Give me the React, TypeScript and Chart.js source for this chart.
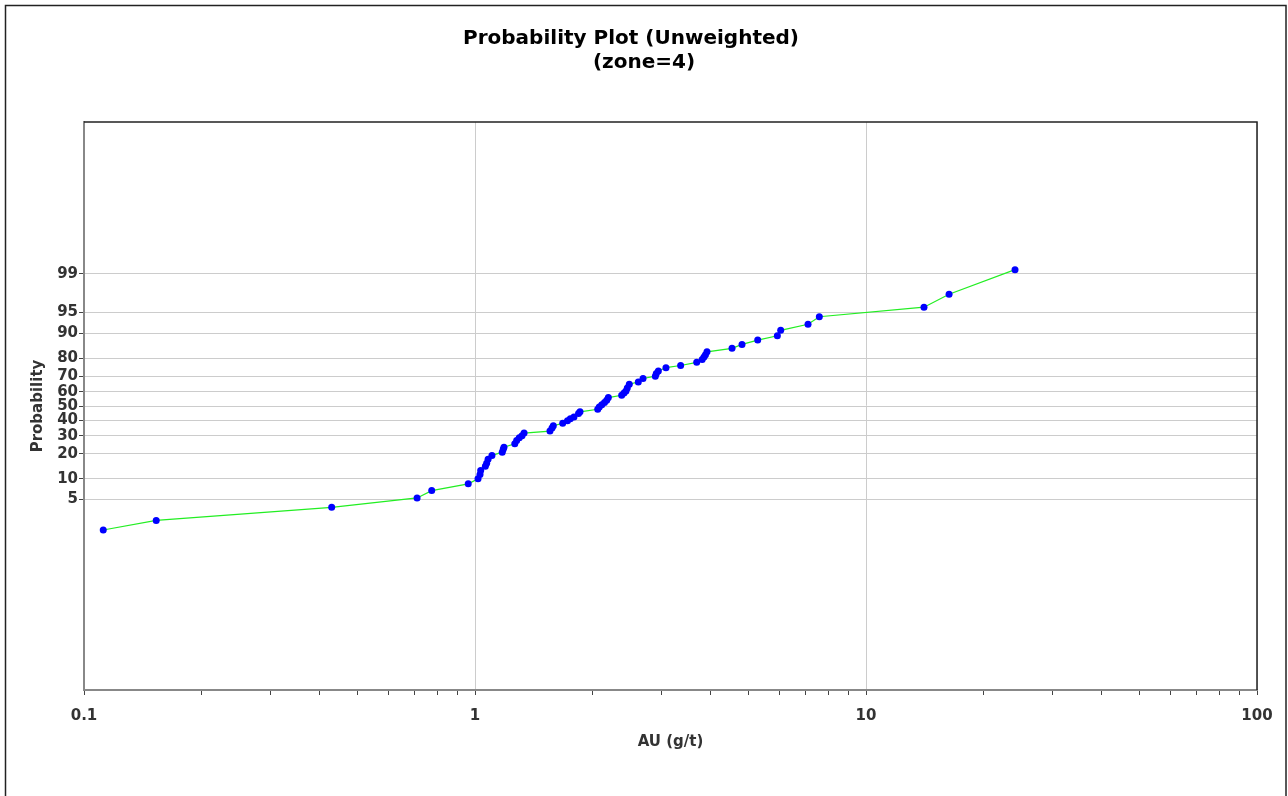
import React, { useEffect, useRef } from "react";
import { Chart, registerables } from "chart.js";

Chart.register(...registerables);

const titleLines = ["Probability Plot (Unweighted)", "(zone=4)"];
const xAxisTitle = "AU (g/t)";
const yAxisTitle = "Probability";

const probTicks = [5, 10, 20, 30, 40, 50, 60, 70, 80, 90, 95, 99];
const xMajorTicks = [0.1, 1, 10, 100];

const auValues = [
  0.112, 0.153, 0.43, 0.711, 0.775, 0.961, 1.018, 1.03, 1.034, 1.063,
  1.071, 1.08, 1.105, 1.174, 1.181, 1.186, 1.264, 1.278, 1.298, 1.319,
  1.335, 1.555, 1.574, 1.586, 1.676, 1.724, 1.753, 1.791, 1.84, 1.856,
  2.06, 2.079, 2.11, 2.144, 2.172, 2.193, 2.372, 2.405, 2.433, 2.452,
  2.481, 2.616, 2.69, 2.892, 2.909, 2.944, 3.079, 3.357, 3.69, 3.811,
  3.852, 3.886, 3.921, 4.543, 4.818, 5.285, 5.933, 6.051, 7.107, 7.597,
  14.07, 16.31, 24.05,
];

const probValues = [
  1.45, 2.2, 3.72, 5.28, 6.82, 8.52, 9.98, 11.38, 12.8, 14.46,
  15.7, 17.46, 19.19, 20.82, 22.37, 23.45, 25.33, 27.22, 28.84, 30.05,
  31.67, 32.93, 35.0, 36.46, 38.0, 39.7, 41.06, 42.3, 44.67, 45.93,
  47.68, 49.3, 50.84, 52.47, 54.0, 55.9, 57.5, 59.1, 60.45, 62.48,
  64.9, 66.4, 68.6, 70.0, 71.6, 73.1, 75.0, 76.2, 77.9, 79.4,
  80.6, 81.7, 83.0, 84.5, 86.1, 87.7, 89.2, 90.86, 92.5, 94.2,
  95.9, 97.55, 99.18,
];

// Inverse standard normal CDF (Acklam's approximation)
function normInv(p: number): number {
  const a = [-3.969683028665376e1, 2.209460984245205e2, -2.759285104469687e2, 1.38357751867269e2, -3.066479806614716e1, 2.506628277459239];
  const b = [-5.447609879822406e1, 1.615858368580409e2, -1.556989798598866e2, 6.680131188771972e1, -1.328068155288572e1];
  const c = [-7.784894002430293e-3, -3.223964580411365e-1, -2.400758277161838, -2.549732539343734, 4.374664141464968, 2.938163982698783];
  const d = [7.784695709041462e-3, 3.224671290700398e-1, 2.445134137142996, 3.754408661907416];
  const pl = 0.02425;
  if (p < pl) {
    const q = Math.sqrt(-2 * Math.log(p));
    return (((((c[0] * q + c[1]) * q + c[2]) * q + c[3]) * q + c[4]) * q + c[5]) /
      ((((d[0] * q + d[1]) * q + d[2]) * q + d[3]) * q + 1);
  }
  if (p > 1 - pl) {
    const q = Math.sqrt(-2 * Math.log(1 - p));
    return -(((((c[0] * q + c[1]) * q + c[2]) * q + c[3]) * q + c[4]) * q + c[5]) /
      ((((d[0] * q + d[1]) * q + d[2]) * q + d[3]) * q + 1);
  }
  const q = p - 0.5;
  const r = q * q;
  return (((((a[0] * r + a[1]) * r + a[2]) * r + a[3]) * r + a[4]) * r + a[5]) * q /
    (((((b[0] * r + b[1]) * r + b[2]) * r + b[3]) * r + b[4]) * r + 1);
}

const FONT = "'DejaVu Sans', Verdana, sans-serif";

const isMajor = (v: number) => {
  const l = Math.log10(v);
  return Math.abs(l - Math.round(l)) < 1e-9;
};

const framePlugin = {
  id: "framePlugin",
  afterDraw(chart: any) {
    const ctx = chart.ctx;
    const { left, right, top } = chart.chartArea;
    ctx.save();
    // outer frame
    ctx.strokeStyle = "#222";
    ctx.lineWidth = 1.5;
    ctx.strokeRect(5.5, 5.5, 1280.5, 820);
    // plot top & right border
    ctx.strokeStyle = "#222";
    ctx.lineWidth = 1.5;
    ctx.beginPath();
    ctx.moveTo(left, top);
    ctx.lineTo(right, top);
    ctx.lineTo(right, chart.chartArea.bottom);
    ctx.stroke();
    // title
    ctx.fillStyle = "#000";
    ctx.font = `bold 20px ${FONT}`;
    ctx.textAlign = "center";
    ctx.textBaseline = "middle";
    ctx.fillText(titleLines[0], 631, 39);
    ctx.fillText(titleLines[1], 644, 63);
    ctx.restore();
  },
};

export default function App() {
  const canvasRef = useRef<HTMLCanvasElement | null>(null);

  useEffect(() => {
    const canvas = canvasRef.current;
    if (!canvas) return;
    const points = auValues.map((x, i) => ({ x, y: normInv(probValues[i] / 100) }));
    const xTickValues: number[] = [];
    for (const dec of [0.1, 1, 10]) {
      for (let k = 1; k <= 9; k++) xTickValues.push(+(dec * k).toPrecision(6));
    }
    xTickValues.push(100);

    const chart = new Chart(canvas, {
      type: "line",
      data: {
        datasets: [
          {
            data: points,
            borderColor: "#22ee22",
            borderWidth: 1.2,
            backgroundColor: "#0000ff",
            pointBackgroundColor: "#0000ff",
            pointBorderColor: "#0000ff",
            pointBorderWidth: 0,
            pointRadius: 3.5,
            tension: 0,
            fill: false,
          },
        ],
      },
      options: {
        responsive: false,
        animation: false,
        devicePixelRatio: 1,
        layout: { padding: { top: 122, right: 31, left: 0, bottom: 0 } },
        plugins: {
          legend: { display: false },
          tooltip: { enabled: false },
          title: { display: false },
        },
        scales: {
          x: {
            type: "logarithmic",
            min: 0.1,
            max: 100,
            afterBuildTicks: (scale: any) => {
              scale.ticks = xTickValues.map((v) => ({ value: v, major: isMajor(v) }));
            },
            afterFit: (scale: any) => {
              scale.height = 106;
            },
            ticks: {
              autoSkip: false,
              maxRotation: 0,
              padding: 12,
              color: "#333",
              font: { family: FONT, size: 15, weight: "bold" },
              callback: (v: any) => {
                const n = Number(v);
                const m = xMajorTicks.find((t) => Math.abs(t - n) < 1e-9);
                return m !== undefined ? String(m) : "";
              },
            },
            grid: {
              color: (ctx: any) => (ctx.tick && isMajor(ctx.tick.value) ? "#cccccc" : "rgba(0,0,0,0)"),
              tickColor: "#444",
              tickLength: 5,
              lineWidth: 1,
            },
            border: { display: true, color: "#888", width: 2 },
            title: {
              display: true,
              text: xAxisTitle,
              color: "#333",
              font: { family: FONT, size: 15, weight: "bold" },
              padding: { top: 0, bottom: 45 },
            },
          },
          y: {
            type: "linear",
            min: -5,
            max: 5,
            afterBuildTicks: (scale: any) => {
              scale.ticks = probTicks.map((p) => ({ value: normInv(p / 100) }));
            },
            afterFit: (scale: any) => {
              scale.width = 84;
            },
            ticks: {
              autoSkip: false,
              padding: 1,
              color: "#333",
              font: { family: FONT, size: 15, weight: "bold" },
              callback: (_v: any, i: number) => String(probTicks[i]),
            },
            grid: {
              color: "#cccccc",
              tickColor: "#444",
              tickLength: 5,
              lineWidth: 1,
            },
            border: { display: true, color: "#888", width: 2 },
            title: {
              display: true,
              text: yAxisTitle,
              color: "#333",
              font: { family: FONT, size: 15, weight: "bold" },
              padding: { top: 29, bottom: 0 },
            },
          },
        },
      },
      plugins: [framePlugin],
    });
    return () => chart.destroy();
  }, []);

  return (
    <div style={{ position: "absolute", left: 0, top: 0, width: 1288, height: 796, background: "#fff" }}>
      <canvas ref={canvasRef} width={1288} height={796} style={{ display: "block", width: 1288, height: 796 }} />
    </div>
  );
}
